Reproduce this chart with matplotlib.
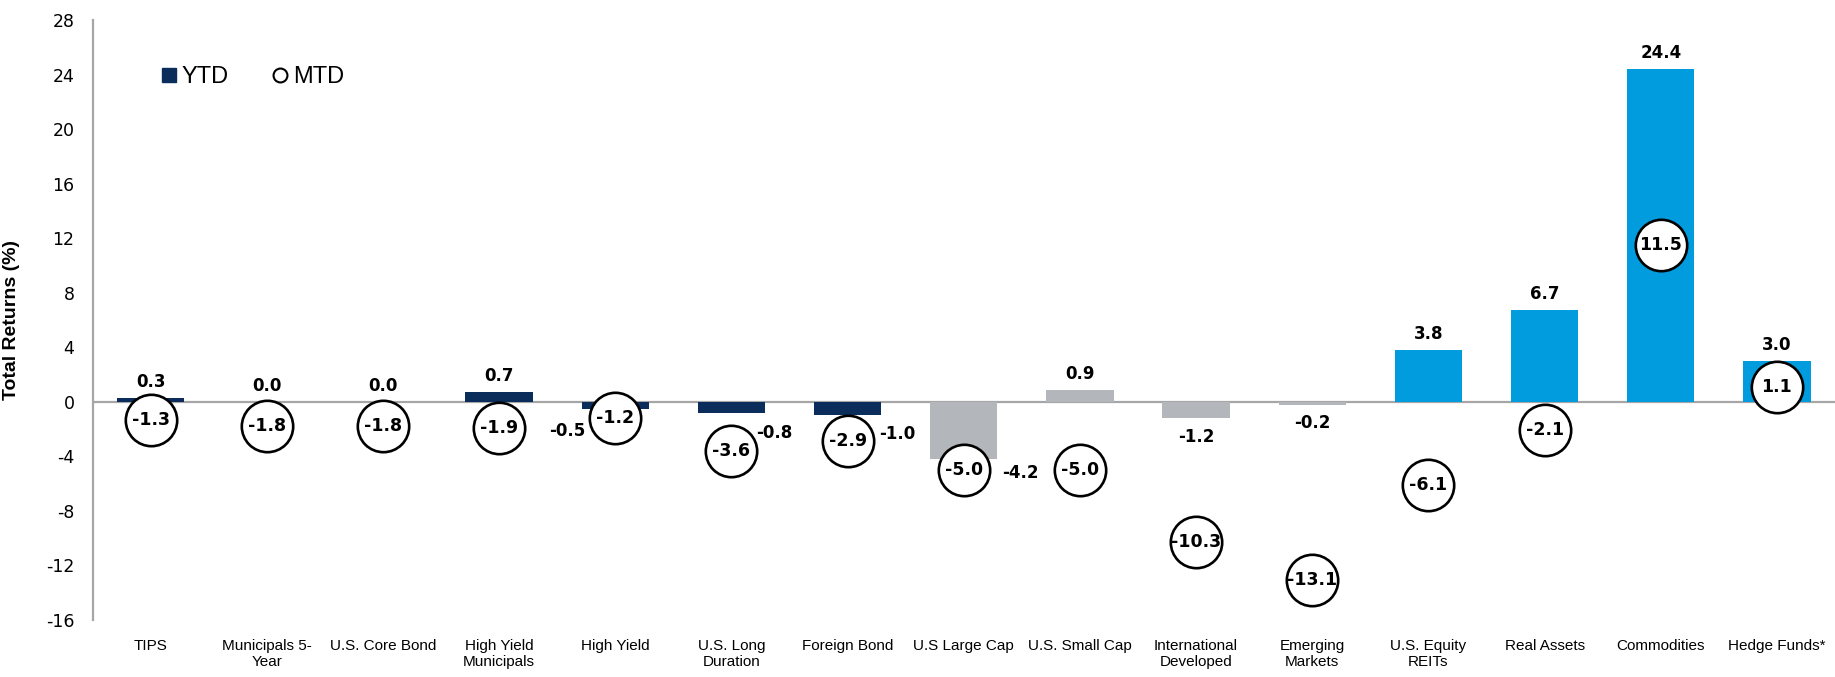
import matplotlib
matplotlib.use("Agg")
import matplotlib.pyplot as plt
from matplotlib.lines import Line2D

plt.rcParams["font.family"] = ["Liberation Sans", "DejaVu Sans"]
plt.rcParams["axes.unicode_minus"] = False

categories = [
    "TIPS", "Municipals 5-\nYear", "U.S. Core Bond", "High Yield\nMunicipals",
    "High Yield", "U.S. Long\nDuration", "Foreign Bond", "U.S Large Cap",
    "U.S. Small Cap", "International\nDeveloped", "Emerging\nMarkets",
    "U.S. Equity\nREITs", "Real Assets", "Commodities", "Hedge Funds*",
]
ytd = [0.3, 0.0, 0.0, 0.7, -0.5, -0.8, -1.0, -4.2, 0.9, -1.2, -0.2, 3.8, 6.7, 24.4, 3.0]
mtd = [-1.3, -1.8, -1.8, -1.9, -1.2, -3.6, -2.9, -5.0, -5.0, -10.3, -13.1, -6.1, -2.1, 11.5, 1.1]
groups = ["fixed"] * 7 + ["equity"] * 4 + ["real"] * 4
yticks = list(range(-16, 29, 4))

NAVY = "#0B2D5B"
GREY = "#B3B6BA"
BLUE = "#009CDE"
AXIS_GREY = "#A6A6A6"
NUM_FONT = "DejaVu Sans"
group_colors = {"fixed": NAVY, "equity": GREY, "real": BLUE}

# label offsets in pixels from the bar end (a few are nudged aside to clear the circles)
label_offsets = {
    4: (-48, -22),
    5: (43, -20),
    6: (50, -19),
    7: (57, -14),
    9: (0, -19),
    10: (0, -18),
}

fig = plt.figure(figsize=(18.35, 6.77), dpi=100)
ax = fig.add_axes([92.5 / 1835, 1 - 620 / 677, 1 - 92.5 / 1835, 600 / 677])

x = list(range(len(categories)))
colors = [group_colors[g] for g in groups]
ax.bar(x, ytd, width=0.58, color=colors, zorder=2)
ax.axhline(0, color=AXIS_GREY, lw=1.6, zorder=1)

for i, v in enumerate(ytd):
    dx, dy = label_offsets.get(i, (0, 16))
    ax.annotate(f"{v:.1f}", (i, v), xytext=(dx, dy), textcoords="offset pixels",
                ha="center", va="center", fontsize=12, fontweight="bold",
                family=NUM_FONT, zorder=5)

ax.plot(x, mtd, ls="none", marker="o", markersize=37, markerfacecolor="white",
        markeredgecolor="black", markeredgewidth=1.9, zorder=4)
for i, v in enumerate(mtd):
    ax.text(i, v, f"{v:.1f}", ha="center", va="center", fontsize=12.5,
            fontweight="bold", family=NUM_FONT, zorder=5)

ax.set_xlim(-0.5, len(categories) - 0.5)
ax.set_ylim(-16, 28)
ax.set_yticks(yticks)
ax.set_yticklabels([str(t) for t in yticks], family=NUM_FONT)
ax.tick_params(axis="y", length=0, pad=13, labelsize=12.5)
ax.set_xticks(x)
ax.set_xticklabels(categories, fontsize=11, linespacing=1.15)
ax.tick_params(axis="x", length=0, pad=14)

for side in ["top", "right", "bottom"]:
    ax.spines[side].set_visible(False)
ax.spines["left"].set_color(AXIS_GREY)
ax.spines["left"].set_linewidth(1.6)

ax.set_ylabel("Total Returns (%)", fontsize=14, fontweight="bold")
ax.yaxis.set_label_coords(-0.0416, 0.5)

handles = [
    Line2D([], [], ls="none", marker="s", markersize=9.5, color=NAVY),
    Line2D([], [], ls="none", marker="o", markersize=10, markerfacecolor="white",
           markeredgecolor="black", markeredgewidth=1.5),
]
ax.legend(handles, ["YTD", "MTD"], ncol=2, frameon=False, fontsize=17,
          handlelength=0.6, handletextpad=0.25, columnspacing=1.85,
          loc="center left", bbox_to_anchor=(0.033, 0.905), borderpad=0)

fig.savefig("out.png", dpi=100)
